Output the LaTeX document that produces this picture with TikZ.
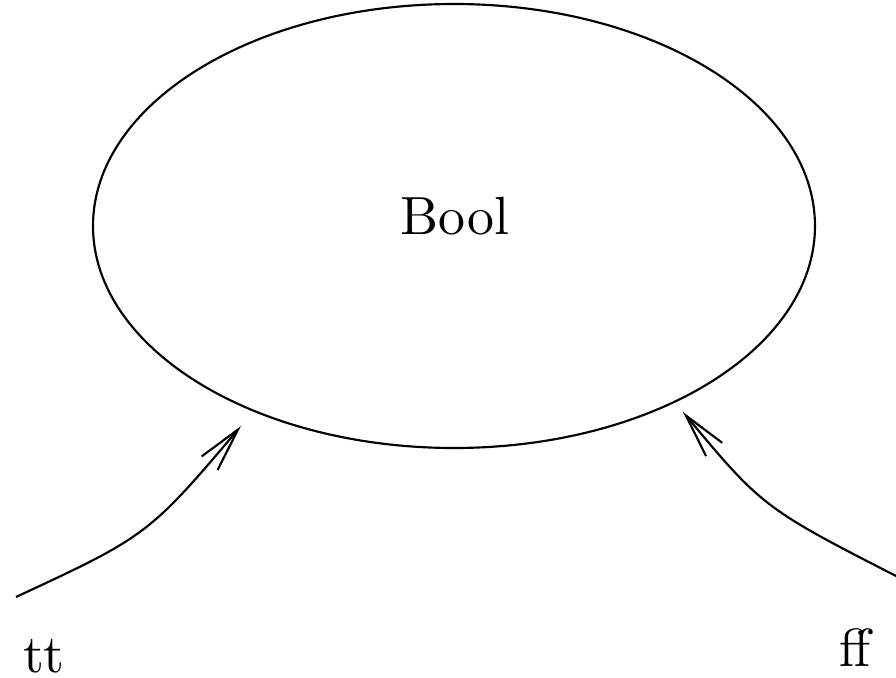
\documentclass[tikz,border=0pt]{standalone}
\usetikzlibrary{arrows.meta,shapes.geometric}
\begin{document}
\begin{tikzpicture}[x=0.186pt,y=-0.186pt,line width=0.4pt,
  lbl/.style={anchor=base,inner sep=0pt},
  arr/.style={-{Straight Barb[length=8.2pt,width=3.9pt]}}]
\useasboundingbox (0,0) rectangle (896,678);
\node[draw,ellipse,minimum width=722*0.186pt,minimum height=444*0.186pt,inner sep=0pt,line width=0.4pt] (bool) at (454,226) {};
\node[lbl] (booltext) at (455,235) {Bool};
\node[lbl] (tt) at (44,673) {tt};
\node[lbl] (ff) at (855,667) {ff};
\coordinate (s1) at (16,597);
\coordinate (e1) at (241,426);
\coordinate (s2) at (900,578);
\coordinate (e2) at (683,412);
\draw[arr] (s1) .. controls (145,537) and (149,535) .. (e1);
\draw[arr] (s2) .. controls (765,509) and (762,507) .. (e2);
\end{tikzpicture}
\end{document}
